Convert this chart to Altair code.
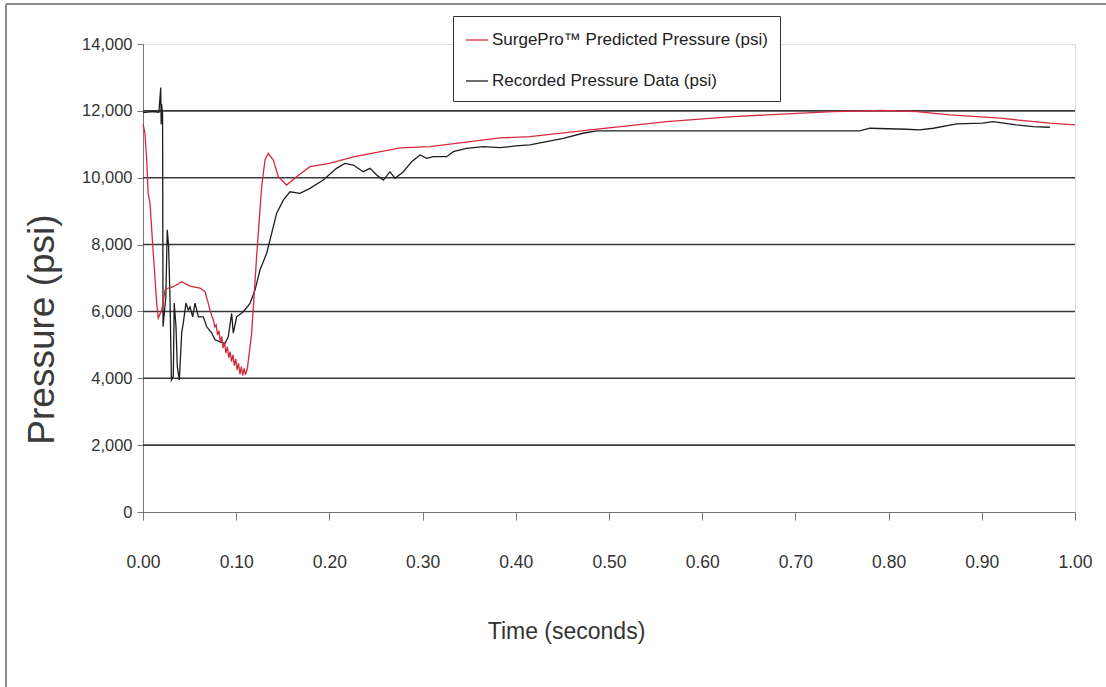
import altair as alt
import pandas as pd

# SurgePro predicted pressure trace (time in s, pressure in psi)
pred_t = [0.000, 0.002, 0.004, 0.0055, 0.0075, 0.011, 0.0147, 0.0164, 0.0201, 0.0236,
          0.0272, 0.0326, 0.0415, 0.0504, 0.0611, 0.0665, 0.0700, 0.0719, 0.0740, 0.0755,
          0.0770, 0.0785, 0.0800, 0.0815, 0.0830, 0.0845, 0.0860, 0.0875, 0.0890, 0.0905,
          0.0920, 0.0935, 0.0950, 0.0965, 0.0980, 0.0995, 0.1010, 0.1025, 0.1040, 0.1055,
          0.1070, 0.1085, 0.1100, 0.1120, 0.1166, 0.1219, 0.1273, 0.1309, 0.1344, 0.1398,
          0.1452, 0.1541, 0.1648, 0.1791, 0.2000, 0.2270, 0.2760, 0.3080, 0.3830, 0.4150,
          0.4800, 0.5620, 0.6330, 0.7400, 0.7940, 0.8300, 0.8660, 0.9200, 0.9730, 1.0000]
pred_p = [11600, 11350, 10530, 9530, 9240, 7750, 6250, 5800, 6040, 6640,
          6700, 6740, 6890, 6760, 6700, 6590, 6250, 6040, 5850, 5750,
          5540, 5600, 5300, 5420, 5080, 5250, 4900, 5080, 4750, 4950,
          4620, 4800, 4500, 4700, 4380, 4580, 4250, 4450, 4120, 4350,
          4080, 4300, 4100, 4300, 5350, 7640, 9730, 10530, 10730, 10530,
          10030, 9780, 10030, 10330, 10430, 10630, 10890, 10930, 11190, 11230,
          11430, 11680, 11830, 11980, 12010, 11980, 11880, 11780, 11630, 11580]

# Recorded field pressure trace
rec_t = [0.000, 0.010, 0.017, 0.018, 0.019, 0.0195, 0.020, 0.021, 0.0215, 0.0245,
         0.0260, 0.0275, 0.0290, 0.0305, 0.0325, 0.0335, 0.0354, 0.0368, 0.0390, 0.0415,
         0.0432, 0.0461, 0.0486, 0.0504, 0.0533, 0.0558, 0.0594, 0.0647, 0.0684, 0.0738,
         0.0773, 0.0826, 0.0880, 0.0915, 0.0951, 0.0969, 0.1005, 0.1076, 0.1148, 0.1202,
         0.1255, 0.1327, 0.1381, 0.1434, 0.1506, 0.1577, 0.1684, 0.1791, 0.1934, 0.2076,
         0.2167, 0.2256, 0.2364, 0.2436, 0.2507, 0.2579, 0.2650, 0.2704, 0.2794, 0.2883,
         0.2972, 0.3044, 0.3115, 0.3258, 0.3330, 0.3470, 0.3650, 0.3830, 0.4000, 0.4150,
         0.4330, 0.4510, 0.4720, 0.4870, 0.6500, 0.7690, 0.7800, 0.8190, 0.8330, 0.8480,
         0.8730, 0.9010, 0.9120, 0.9370, 0.9550, 0.9730]
rec_p = [11950, 11980, 11960, 12300, 12700, 11600, 12200, 11900, 5540, 6440,
         8440, 7940, 6340, 3950, 4050, 6250, 5540, 4350, 3950, 5350,
         5650, 6250, 6040, 6140, 5840, 6250, 5840, 5840, 5540, 5350,
         5150, 5090, 5040, 5240, 5940, 5350, 5840, 5990, 6240, 6640,
         7240, 7740, 8340, 8940, 9330, 9580, 9530, 9680, 9930, 10280,
         10430, 10380, 10180, 10280, 10080, 9930, 10180, 9980, 10180, 10480,
         10680, 10580, 10630, 10630, 10780, 10880, 10930, 10900, 10950, 10980,
         11080, 11180, 11330, 11400, 11400, 11400, 11480, 11450, 11430, 11480,
         11610, 11630, 11680, 11580, 11530, 11510]

series_names = ["SurgePro\u2122 Predicted Pressure (psi)", "Recorded Pressure Data (psi)"]
series_colors = ["#d42a3c", "#1e1e1e"]

grid_levels = [2000, 4000, 6000, 8000, 10000, 12000]
y_ticks = [0, 2000, 4000, 6000, 8000, 10000, 12000, 14000]
x_ticks = [0.0, 0.1, 0.2, 0.3, 0.4, 0.5, 0.6, 0.7, 0.8, 0.9, 1.0]

FONT = "Liberation Sans, Arial, sans-serif"

W, H = 932, 468

# recorded first so the predicted trace is painted on top
lines = pd.concat([
    pd.DataFrame({"t": rec_t, "p": rec_p, "series": series_names[1], "order": 0}),
    pd.DataFrame({"t": pred_t, "p": pred_p, "series": series_names[0], "order": 1}),
], ignore_index=True)

x_scale = alt.Scale(domain=[0, 1], nice=False, zero=False)
y_scale = alt.Scale(domain=[0, 14000], nice=False)

x_axis = alt.Axis(
    values=x_ticks, labelExpr="format(datum.value, '.2f')", title="Time (seconds)",
    grid=False, labelFont=FONT, labelFontSize=17.5, labelColor="#333", labelPadding=33,
    labelFlush=False, labelOverlap=False,
    tickSize=8, tickColor="#777", domainColor="#777",
    titleFont=FONT, titleFontSize=23, titleFontWeight="normal", titleColor="#333",
    titleX=423, titleY=108,
)
y_axis = alt.Axis(
    values=y_ticks, labelExpr="format(datum.value, ',')", title="Pressure (psi)",
    grid=False, labelFont=FONT, labelFontSize=16.5, labelColor="#333", labelPadding=5,
    labelFlush=False, labelOverlap=False,
    tickSize=6, tickColor="#777", domainColor="#777",
    titleFont=FONT, titleFontSize=37, titleFontWeight="normal", titleColor="#3a3a3a",
    titleX=-82, titleY=285,
)

grid = alt.Chart(pd.DataFrame({"level": grid_levels})).mark_rule(
    color="#3a3a3a", strokeWidth=1.6
).encode(
    y=alt.Y("level:Q", scale=y_scale, axis=y_axis),
    x=alt.value(0), x2=alt.value(W),
)

traces = alt.Chart(lines).mark_line(strokeWidth=1.3, interpolate="linear").encode(
    x=alt.X("t:Q", scale=x_scale, axis=x_axis),
    y=alt.Y("p:Q", scale=y_scale, axis=y_axis),
    color=alt.Color("series:N", title=None,
                    scale=alt.Scale(domain=series_names, range=series_colors),
                    legend=alt.Legend(
                        orient="none", legendX=310, legendY=-28,
                        strokeColor="#333", fillColor="white", padding=12,
                        labelFont=FONT, labelFontSize=17, labelColor="#222",
                        labelLimit=400, labelOffset=3,
                        symbolType="stroke", symbolSize=484, symbolStrokeWidth=1.3,
                        rowPadding=21,
                    )),
    order=alt.Order("order:Q"),
    detail="series:N",
)

one = pd.DataFrame({"k": [0]})
frame_left = alt.Chart(one).mark_rule(color="#8a8a8a", strokeWidth=2).encode(
    x=alt.value(-137), y=alt.value(-40), y2=alt.value(650))
frame_top = alt.Chart(one).mark_rule(color="#8a8a8a", strokeWidth=2).encode(
    y=alt.value(-40), x=alt.value(-137), x2=alt.value(970))

chart = alt.layer(grid, traces, frame_left, frame_top).properties(
    width=W, height=H,
    autosize=alt.AutoSizeParams(type="none"),
    padding={"left": 143, "top": 44, "right": 31, "bottom": 175},
).configure_view(strokeWidth=0).configure(background="white")

chart.save("out.html", embed_options={"renderer": "svg", "actions": False})
